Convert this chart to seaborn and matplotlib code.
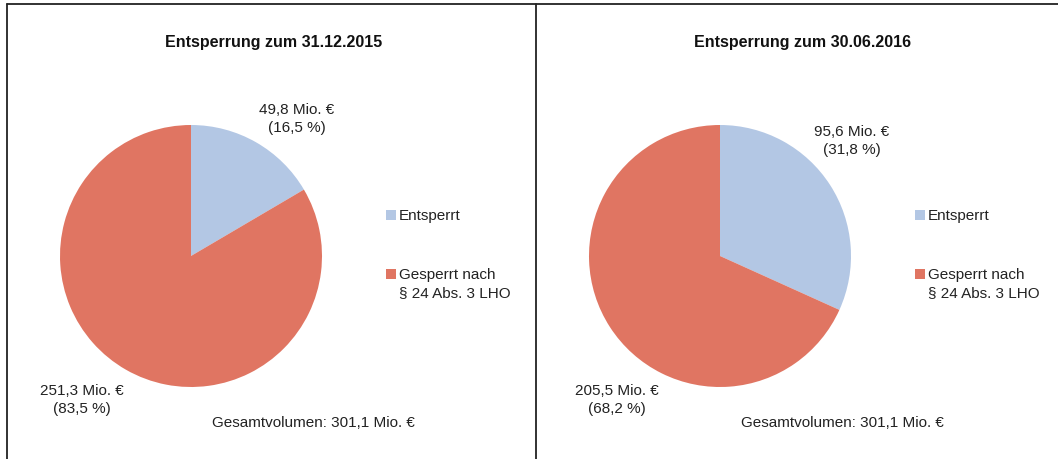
import matplotlib
matplotlib.use("Agg")
import matplotlib.pyplot as plt
import seaborn as sns
from matplotlib.patches import Rectangle

# data
categories = ["Entsperrt", "Gesperrt nach\n§ 24 Abs. 3 LHO"]
titles = ["Entsperrung zum 31.12.2015", "Entsperrung zum 30.06.2016"]
values_2015 = [49.8, 251.3]
values_2016 = [95.6, 205.5]
shares_2015 = ["16,5", "83,5"]
shares_2016 = ["31,8", "68,2"]
total_label = "Gesamtvolumen: 301,1 Mio. €"

sns.set_theme(style="white")
plt.rcParams['font.family'] = ['Liberation Sans', 'DejaVu Sans']
colors = ["#B3C7E4", "#E07562"]
txt = "#222222"

W, H = 1058, 459
fig = plt.figure(figsize=(W / 100, H / 100), dpi=100)

def fx(x):
    return x / W

def fy(y):
    return 1 - y / H

# panel frame lines
fig.add_artist(plt.Line2D([fx(7), 1], [fy(4), fy(4)], color="#222222", lw=1.3))
fig.add_artist(plt.Line2D([fx(7), fx(7)], [fy(4), 0], color="#222222", lw=1.3))
fig.add_artist(plt.Line2D([fx(536), fx(536)], [fy(4), 0], color="#222222", lw=1.3))

fmt = lambda v: f"{v:.1f}".replace(".", ",") + " Mio. €"

panels = [
    (0, titles[0], values_2015, shares_2015, (297, 119), (82, 400)),
    (529, titles[1], values_2016, shares_2016, (852, 141), (617, 400)),
]

for off, title, vals, shares, lab1, lab2 in panels:
    cx, cy, r = 191 + off, 256, 131
    ax = fig.add_axes([fx(cx - r), fy(cy + r), 2 * r / W, 2 * r / H])
    ax.pie(vals, colors=colors, startangle=90, counterclock=False,
           wedgeprops=dict(linewidth=0))
    ax.set_xlim(-1, 1)
    ax.set_ylim(-1, 1)
    ax.axis("off")

    fig.text(fx(274 + off), fy(42), title, ha="center", va="center",
             fontsize=11.5, fontweight="bold", color="#111111")
    fig.text(fx(lab1[0]), fy(lab1[1]), f"{fmt(vals[0])}\n({shares[0]} %)",
             ha="center", va="center", fontsize=11, color=txt, linespacing=1.38)
    fig.text(fx(lab2[0]), fy(lab2[1]), f"{fmt(vals[1])}\n({shares[1]} %)",
             ha="center", va="center", fontsize=11, color=txt, linespacing=1.38)
    fig.text(fx(313 + off), fy(423), total_label, ha="center", va="center",
             fontsize=11, color=txt)

    # legend keys and labels
    for i, (lab, col) in enumerate(zip(categories, colors)):
        ky = 215 + 59 * i
        fig.add_artist(Rectangle((fx(386 + off), fy(ky + 5)), 10 / W, 10 / H,
                                 facecolor=col, edgecolor="none",
                                 transform=fig.transFigure))
        fig.text(fx(399 + off), fy(ky - 6), lab, ha="left", va="top",
                 fontsize=11, color=txt, linespacing=1.38)

fig.savefig("out.png", dpi=100, facecolor="white")
